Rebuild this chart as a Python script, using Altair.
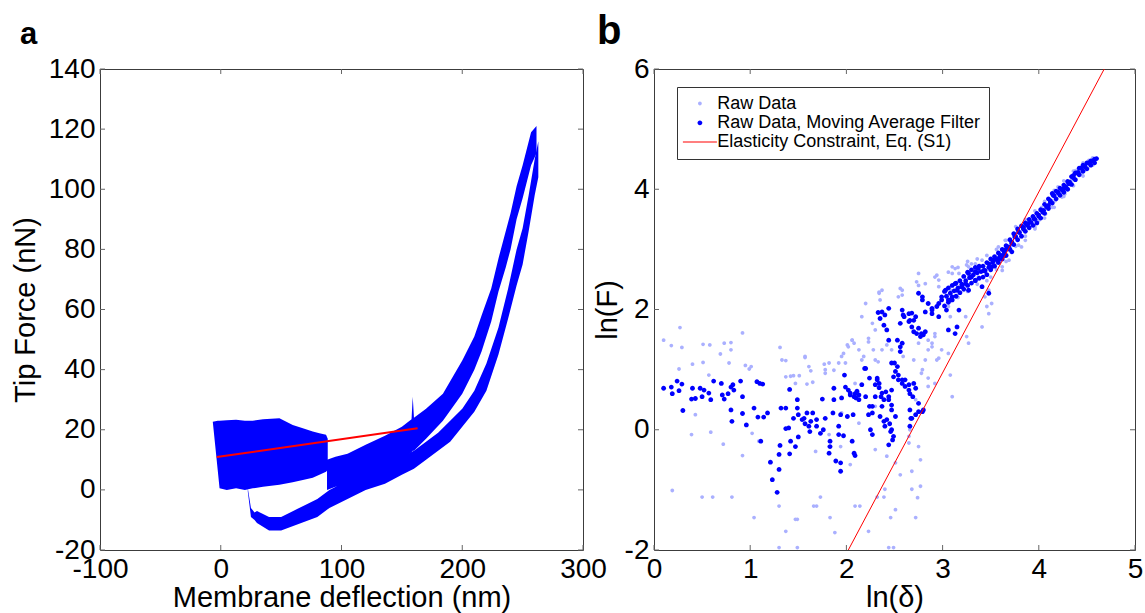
import altair as alt
import pandas as pd

FONT = "Liberation Sans"

# ---------------- Panel a : tip force vs membrane deflection ----------------
# dense oscillating block (vertical extent of the trace at each deflection)
block_x = [-6.6, -4.5, -2.5, -1, 5, 12.7, 20, 26.5, 35, 48.6, 59.6, 68, 76.2, 81.7, 87.2, 88.6]
block_lo = [22.7, 14.4, 6.5, 0.5, 0, 0.5, 0, 0.5, 1, 1.7, 2.5, 3.3, 4, 5, 6, 6.7]
block_hi = [22.7, 22.8, 23, 23, 23.2, 23.3, 23, 23, 23.5, 23.8, 21.6, 20.5, 19.4, 18.8, 18.3, 17]

# upper (loading) branch: vertical extent of the noisy trace
up_x = [88, 95, 105, 120, 136, 150, 158, 159, 160, 170, 184, 200, 210, 216, 224, 230, 236, 240, 245, 250, 257, 261.5]
up_lo = [0, 1, 1, 3, 6, 10, 12.5, 13, 13, 17, 23, 32, 40, 46, 56, 66, 74, 80, 90, 97, 108, 112]
up_hi = [10, 11, 12, 15, 18, 21, 23.5, 31, 24, 27, 32, 43, 51, 58, 67, 77, 86, 92, 101, 108, 119, 121]

# lower branch: vertical extent of the noisy trace
low_x = [22.4, 25, 28, 30, 40, 50, 60, 70, 80, 90, 100, 110, 120, 136, 150, 160, 170, 180, 190,
         200, 210, 220, 230, 238, 245, 250, 255, 260, 263]
low_lo = [-0.5, -9, -10, -11, -13.5, -13.5, -12, -10.5, -9, -6, -4, -2, 0, 2, 5, 7, 10, 13, 16,
          21, 26, 33, 45, 57, 68, 75, 86, 98, 104]
low_hi = [0.5, -6, -7.5, -7, -9, -9, -7, -5, -3, 0, 2, 4, 6, 8, 11, 13, 16, 19, 23,
          27, 33, 42, 54, 67, 80, 87, 98, 110, 116]

# red linear fit
fit_a_x = [-3.3, 163]
fit_a_y = [10.9, 20.5]

a_xticks = [-100, 0, 100, 200, 300]
a_yticks = [-20, 0, 20, 40, 60, 80, 100, 120, 140]

# ---------------- Panel b : ln(F) vs ln(delta) ----------------
raw_points = [
    (0.10, 1.49), (0.18, 1.40), (0.27, 1.70), (0.29, 1.37), (0.26, 1.01), (0.40, 1.09), (0.51, 1.42),
    (0.58, 1.41), (0.51, 1.12), (0.57, 0.91), (0.43, 0.25), (0.39, -0.08), (0.59, -0.04), (0.73, 1.44),
    (0.80, 1.45), (0.80, 1.33), (0.78, 1.11), (0.69, 1.26), (0.72, -0.24), (0.92, 1.61), (0.95, 1.07),
    (0.99, 1.01), (1.01, 1.05), (0.92, -0.43), (1.09, -0.19), (1.02, -0.06), (1.31, 1.37), (1.37, 1.15),
    (1.42, 0.89), (1.45, 0.90), (1.51, 0.90), (1.57, 1.20), (1.63, 0.98), (1.59, 0.76), (1.65, 0.79),
    (1.68, -0.36), (1.77, 1.09), (1.87, 0.99), (1.92, 1.11), (1.97, 1.27), (2.01, 1.41), (2.06, 1.49),
    (2.13, 1.33), (2.16, 1.16), (2.23, 1.46), (2.28, 1.33), (2.33, 1.13), (2.42, 1.41), (1.95, 0.28),
    (2.13, 0.11), (2.30, 0.39), (2.09, 0.77), (1.82, -0.08), (1.82, -0.28), (1.94, -0.28), (2.04, -0.58),
    (2.30, -0.33), (2.42, -0.44), (2.51, -0.55), (2.65, -0.11), (2.75, -0.28), (2.77, -0.50), (2.72, 0.50),
    (2.78, 0.94), (2.85, 0.86), (2.92, 0.77), (2.89, 1.38), (2.96, 1.19), (2.92, 1.60),
    (0.19, -1.01), (0.50, -1.12), (0.61, -1.12), (0.81, -1.12), (1.04, -1.46), (1.30, -1.27), (1.37, -1.69),
    (1.30, -1.96), (1.49, -1.49), (1.47, -1.49), (1.49, -1.96), (1.66, -1.27), (1.69, -1.27), (1.73, -1.12),
    (1.83, -1.46), (1.88, -1.71), (2.09, -1.27), (2.14, -1.27), (2.23, -1.69), (2.32, -1.12), (2.39, -1.12),
    (2.40, -0.99), (2.51, -1.33), (2.46, -1.46), (2.44, -1.96), (2.49, -1.96), (2.68, -0.99), (2.72, -1.46),
    (2.74, -1.13), (2.77, -0.94), (2.68, -0.69), (2.56, -0.75),
    (2.34, 2.29), (2.35, 2.16), (2.56, 2.35), (2.58, 2.24), (2.73, 2.46), (2.75, 2.40), (2.94, 2.57),
    (2.96, 2.49), (3.10, 2.60), (3.13, 2.68), (3.25, 2.74), (3.34, 2.76), (3.41, 2.82), (2.20, 2.10),
    (2.16, 1.88), (2.27, 1.77), (2.30, 1.66), (2.23, 1.52), (2.06, 1.49), (2.08, 1.44), (2.02, 1.38),
    (1.95, 1.22), (1.99, 1.11), (1.82, 1.11), (1.78, 1.00), (2.18, 1.22), (2.30, 1.16), (2.37, 1.33),
    (2.47, 1.33), (2.59, 1.22), (2.70, 1.16), (2.82, 1.16), (2.85, 1.33), (2.89, 1.44), (2.99, 1.33),
    (3.06, 1.27), (3.10, 0.55), (3.08, 0.91), (2.94, 1.16), (2.79, 1.00), (2.66, 0.00), (2.65, -0.22),
    (2.85, 0.72), (3.27, 1.44), (3.25, 1.55), (3.41, 1.71), (3.48, 1.93), (3.46, 2.05), (3.24, 1.88),
    (3.08, 1.88), (2.92, 1.55), (2.85, 1.49), (2.75, 1.44), (1.33, 1.16), (1.37, 0.88), (1.57, 1.22),
    (1.61, 1.05), (1.78, 0.94), (1.47, 0.77),
    (4.52, 4.48), (4.45, 4.26), (4.34, 4.15), (4.27, 3.92), (4.17, 3.81), (4.07, 3.59), (4.03, 3.70),
    (3.96, 3.37), (3.86, 3.32), (3.82, 3.21), (3.79, 3.07), (3.74, 3.26), (3.69, 2.82), (3.65, 3.15),
    (3.62, 2.71), (3.58, 3.04), (3.55, 2.76), (3.50, 2.54), (3.44, 2.65), (3.37, 2.54), (3.41, 2.38),
    (3.30, 2.76), (3.27, 2.71), (3.17, 2.60), (3.10, 2.71), (3.22, 2.32), (3.08, 2.32), (2.96, 2.38),
    (2.92, 2.54), (2.82, 2.43), (2.75, 2.60), (2.58, 2.32), (2.54, 2.21), (2.37, 2.32), (2.34, 2.27),
    (3.82, 3.04), (3.86, 3.15), (4.00, 3.48), (4.14, 3.70), (4.20, 4.04), (4.24, 3.87), (4.38, 4.31),
    (3.62, 2.65), (3.48, 2.32), (3.44, 2.21), (3.51, 2.10),
    (4.56, 4.52), (4.56, 4.40), (4.46, 4.44), (4.46, 4.22), (4.36, 4.30), (4.36, 4.06), (4.26, 4.14),
    (4.26, 3.88), (4.16, 3.98), (4.16, 3.70), (4.06, 3.80), (4.06, 3.52), (3.96, 3.64), (3.96, 3.34),
    (3.86, 3.50), (3.86, 3.22), (3.76, 3.38), (3.76, 3.05), (3.66, 3.15), (3.66, 2.80), (3.56, 3.00),
    (3.56, 2.66), (3.46, 2.90), (3.46, 2.48), (3.36, 2.84), (3.36, 2.42), (3.26, 2.80), (3.26, 2.30),
    (3.16, 2.70), (3.16, 2.20), (3.06, 2.62), (3.06, 2.05),
]

ma_points = [
    (0.10, 0.69), (0.18, 0.71), (0.19, 0.60), (0.24, 0.81), (0.26, 0.65), (0.29, 0.76), (0.30, 0.32),
    (0.40, 0.69), (0.39, 0.51), (0.43, 0.52), (0.48, 0.69), (0.52, 0.66), (0.50, 0.55), (0.57, 0.61),
    (0.59, 0.50), (0.62, 0.81), (0.70, 0.77), (0.71, 0.58), (0.73, 0.51), (0.77, 0.60), (0.80, 0.71),
    (0.82, 0.75), (0.83, 0.66), (0.80, 0.33), (0.81, 0.14), (0.90, 0.81), (0.92, 0.55), (0.92, 0.27),
    (0.96, 0.08), (1.04, 0.36), (1.07, 0.80), (1.10, 0.77), (1.13, 0.76), (1.11, -0.19), (1.08, 0.21),
    (1.18, 0.28), (1.14, 0.21),
    (1.21, -0.54), (1.23, -0.83), (1.28, -1.04), (1.30, -0.66), (1.30, -0.41), (1.31, -0.26), (1.32, 0.36),
    (1.37, 0.36), (1.37, 0.02), (1.40, 0.03), (1.41, 0.67), (1.42, -0.19), (1.41, -0.40), (1.45, 0.19),
    (1.47, -0.28), (1.49, 0.50), (1.49, 0.36), (1.50, 0.25), (1.50, -0.12), (1.54, 0.17), (1.56, 0.19),
    (1.57, 0.10), (1.59, 0.28), (1.61, 0.06), (1.62, -0.03), (1.65, 0.28), (1.63, 0.14), (1.69, 0.06),
    (1.69, 0.17), (1.75, 0.51), (1.73, -0.06), (1.76, 0.00), (1.78, 0.19), (1.83, -0.19), (1.83, -0.28),
    (1.82, -0.39), (1.87, 0.69), (1.87, 0.50), (1.86, 0.28), (1.89, -0.52), (1.92, 0.06), (1.92, -0.08),
    (1.94, 0.25), (1.94, -0.55), (1.94, -0.69), (1.95, 0.53), (1.97, -0.10), (1.98, 0.91), (1.99, 0.71),
    (2.01, 0.22), (2.02, 0.66), (2.04, 0.58), (2.06, -0.19), (2.07, 0.25), (2.08, -0.39), (2.09, -0.43),
    (2.09, 0.60), (2.10, 0.53), (2.11, 0.64), (2.13, 0.50), (2.16, 0.75), (2.19, 1.02), (2.20, 0.55),
    (2.24, 0.39), (2.24, 0.86), (2.27, 0.28), (2.25, 0.00), (2.27, -0.08), (2.30, 0.75), (2.30, 0.55),
    (2.32, 0.83), (2.34, 0.70), (2.35, 0.22), (2.36, 0.55), (2.37, 0.39), (2.39, 0.50), (2.39, 0.14),
    (2.40, 0.06), (2.44, 0.50), (2.45, 0.10), (2.46, -0.03), (2.47, 0.33), (2.47, 0.66), (2.44, -0.25),
    (2.48, -0.17), (2.50, 1.11), (2.51, 0.97), (2.51, 0.22), (2.54, 0.83), (2.56, 1.30), (2.58, 1.44),
    (2.58, 0.77), (2.61, 0.83), (2.65, 0.75), (2.66, 0.60), (2.69, 0.55), (2.66, 0.06), (2.67, 0.19),
    (2.72, 0.25), (2.75, 0.30), (2.80, 0.33),
    (2.44, 2.02), (2.37, 1.96), (2.33, 1.95), (2.40, 1.91), (2.58, 1.99), (2.59, 1.91), (2.70, 1.82),
    (2.75, 1.69), (2.78, 1.60), (2.68, 1.94), (2.89, 1.99),
    (2.35, 1.85), (2.39, 1.74), (2.42, 1.66), (2.44, 1.49), (2.53, 1.49), (2.56, 1.38), (2.60, 1.88),
    (2.56, 1.77), (2.65, 1.93), (2.66, 1.82), (2.68, 1.71), (2.70, 1.63), (2.73, 1.60), (2.77, 1.55),
    (2.80, 1.58), (2.82, 1.63), (2.75, 2.27), (2.79, 2.21), (2.85, 2.10), (2.89, 1.93), (2.94, 2.05),
    (2.96, 1.88), (2.99, 2.16), (3.03, 2.32), (3.04, 1.99), (3.06, 1.66), (3.08, 2.16), (3.13, 1.60),
    (3.15, 1.71), (3.17, 1.99), (3.13, 2.43), (3.20, 2.38), (3.27, 2.32), (3.29, 2.54), (3.34, 2.49),
    (3.41, 2.38), (3.48, 2.27), (3.44, 2.65), (3.51, 2.71), (3.58, 2.82), (3.65, 2.90), (3.72, 2.96),
    (2.47, 1.11), (2.53, 1.05), (2.49, 0.88), (2.54, 0.91), (2.58, 0.83), (2.61, 0.72), (2.65, 0.66),
    (2.70, 0.77), (2.72, 0.69), (2.75, 0.44), (2.79, 0.30), (2.66, 0.33), (2.68, 0.19), (2.04, 0.61),
    (2.08, 0.55), (2.13, 0.58), (2.20, 1.02), (2.32, 0.86), (2.34, 0.77), (2.37, 0.61), (2.41, 0.63),
    (2.44, 0.55), (2.47, 0.41), (2.27, 0.39), (2.23, 0.25), (2.42, 0.17), (2.47, 0.00), (2.49, -0.11),
    (4.60, 4.51), (4.48, 4.37), (4.41, 4.28), (4.36, 4.23), (4.31, 4.09), (4.26, 4.01), (4.20, 3.95),
    (4.15, 3.90), (4.12, 3.81), (4.10, 3.73), (4.05, 3.65), (4.00, 3.57), (3.95, 3.51), (3.89, 3.43),
    (3.84, 3.37), (3.79, 3.29), (3.75, 3.21), (3.72, 3.10), (3.69, 3.04), (3.65, 2.99), (3.62, 2.90),
    (3.58, 2.85), (3.53, 2.82), (3.48, 2.76), (3.43, 2.65), (3.37, 2.68), (3.34, 2.63), (3.30, 2.54),
    (3.27, 2.60), (3.24, 2.43), (3.20, 2.38), (3.15, 2.32), (3.10, 2.21), (3.06, 2.16), (2.99, 2.21),
    (2.96, 2.10), (2.89, 2.02), (2.82, 1.96), (2.79, 2.16), (2.72, 1.88), (2.65, 1.80),
    (4.58, 4.50), (4.58, 4.44), (4.54, 4.47), (4.54, 4.40), (4.50, 4.44), (4.50, 4.34), (4.46, 4.40),
    (4.46, 4.30), (4.42, 4.35), (4.42, 4.24), (4.38, 4.27), (4.38, 4.16), (4.34, 4.21), (4.34, 4.08),
    (4.30, 4.13), (4.30, 4.00), (4.26, 4.07), (4.26, 3.95), (4.22, 4.02), (4.22, 3.90), (4.18, 3.97),
    (4.18, 3.84), (4.14, 3.93), (4.14, 3.77), (4.10, 3.84), (4.10, 3.68), (4.06, 3.75), (4.06, 3.60),
    (4.02, 3.66), (4.02, 3.52), (3.98, 3.60), (3.98, 3.44), (3.94, 3.55), (3.94, 3.40), (3.90, 3.50),
    (3.90, 3.36), (3.86, 3.44), (3.86, 3.30), (3.82, 3.39), (3.82, 3.22), (3.78, 3.34), (3.78, 3.16),
    (3.74, 3.26), (3.74, 3.08), (3.70, 3.16), (3.70, 3.00), (3.66, 3.06), (3.66, 2.90), (3.62, 3.00),
    (3.62, 2.84), (3.58, 2.94), (3.58, 2.78), (3.54, 2.88), (3.54, 2.72), (3.50, 2.84), (3.50, 2.66),
    (3.46, 2.78), (3.46, 2.58), (3.42, 2.72), (3.42, 2.54), (3.38, 2.72), (3.38, 2.52), (3.34, 2.70),
    (3.34, 2.48), (3.30, 2.66), (3.30, 2.44), (3.26, 2.62), (3.26, 2.40), (3.22, 2.55), (3.22, 2.34),
    (3.18, 2.48), (3.18, 2.28), (3.14, 2.44), (3.14, 2.22), (3.10, 2.40), (3.10, 2.16), (3.06, 2.36),
    (3.06, 2.12), (3.02, 2.30), (3.02, 2.06),
    (4.56, 4.47), (4.52, 4.44), (4.48, 4.39), (4.44, 4.35), (4.40, 4.27), (4.36, 4.19), (4.32, 4.12),
    (4.28, 4.04), (4.24, 3.99), (4.20, 3.94), (4.16, 3.89), (4.12, 3.79), (4.08, 3.71), (4.04, 3.62),
    (4.00, 3.55), (3.96, 3.50), (3.92, 3.45), (3.88, 3.40), (3.84, 3.34), (3.80, 3.28), (3.76, 3.21),
    (3.72, 3.12), (3.68, 3.03), (3.64, 2.96), (3.60, 2.90), (3.56, 2.83), (3.52, 2.78), (3.48, 2.70),
    (3.44, 2.64), (3.40, 2.63), (3.36, 2.61), (3.32, 2.58), (3.28, 2.53), (3.24, 2.48), (3.20, 2.42),
    (3.16, 2.36), (3.12, 2.31), (3.08, 2.27), (3.04, 2.22),
]

fit_b_x = [2.02, 4.68]
fit_b_y = [-2.0, 6.0]

b_xticks = [0, 1, 2, 3, 4, 5]
b_yticks = [-2, 0, 2, 4, 6]

panel_letters = ["a", "b"]

SERIES = ["Raw Data", "Raw Data, Moving Average Filter", "Elasticity Constraint, Eq. (S1)"]
COLORS = ["#aab0ff", "#0000ff", "#ff0000"]
# glyph paths (unit = 2 px at size 16): dots for the data, a thin 34 px bar for the line entry
DOT_RAW = "M-0.95,0A0.95,0.95 0 1,1 0.95,0A0.95,0.95 0 1,1 -0.95,0Z"
DOT_MA = "M-1.2,0A1.2,1.2 0 1,1 1.2,0A1.2,1.2 0 1,1 -1.2,0Z"
BAR = "M-8.5,-0.25L8.5,-0.25L8.5,0.25L-8.5,0.25Z"
SHAPES = [DOT_RAW, DOT_MA, BAR]
GLYPH = 16

# ---------------- styling helpers ----------------
W_A, H_A = 483, 481
W_B, H_B = 481, 481
FRAME = "#3c3c3c"
TICK = "#666666"
TL = 5


def make_axis(title, values, title_pad):
    return alt.Axis(title=title, values=values, ticks=False, tickSize=0, domain=False, grid=False,
                    labelFont=FONT, labelFontSize=28, labelColor="black", labelPadding=5,
                    labelFlush=False, labelOverlap=False, labelExpr="'' + datum.value",
                    titleFont=FONT, titleFontSize=29, titleFontWeight="normal", titleColor="black",
                    titlePadding=title_pad)


def inner_ticks(xvals, yvals, w, h):
    tx = pd.DataFrame({"x": xvals})
    ty = pd.DataFrame({"y": yvals})
    bot = alt.Chart(tx).mark_rule(color=TICK, strokeWidth=1).encode(
        x="x:Q", y=alt.value(h), y2=alt.value(h - TL))
    top = alt.Chart(tx).mark_rule(color=TICK, strokeWidth=1).encode(
        x="x:Q", y=alt.value(0), y2=alt.value(TL))
    left = alt.Chart(ty).mark_rule(color=TICK, strokeWidth=1).encode(
        y="y:Q", x=alt.value(0), x2=alt.value(TL))
    right = alt.Chart(ty).mark_rule(color=TICK, strokeWidth=1).encode(
        y="y:Q", x=alt.value(w), x2=alt.value(w - TL))
    return [bot, top, left, right]


def letter(txt, dx, fs):
    return alt.Chart(pd.DataFrame({"t": [txt]})).mark_text(
        font=FONT, fontSize=fs, fontWeight="bold", align="left", baseline="alphabetic", color="black"
    ).encode(x=alt.value(dx), y=alt.value(-25.5), text="t:N")


# ---------------- panel a ----------------
xa_scale = alt.Scale(domain=[-100, 300], nice=False, zero=False)
ya_scale = alt.Scale(domain=[-20, 140], nice=False, zero=False)
xa_axis = make_axis("Membrane deflection (nm)", a_xticks, 0)
ya_axis = make_axis("Tip Force (nN)", a_yticks, 8)


def band(xs, lo, hi):
    df = pd.DataFrame({"x": xs, "y": lo, "y2": hi})
    return alt.Chart(df).mark_area(color="#0000ff", opacity=1, interpolate="linear").encode(
        x=alt.X("x:Q", scale=xa_scale, axis=xa_axis),
        y=alt.Y("y:Q", scale=ya_scale, axis=ya_axis),
        y2="y2:Q",
    )


fit_a = alt.Chart(pd.DataFrame({"x": fit_a_x, "y": fit_a_y})).mark_line(color="#ff0000", strokeWidth=2).encode(
    x=alt.X("x:Q", scale=xa_scale, axis=xa_axis),
    y=alt.Y("y:Q", scale=ya_scale, axis=ya_axis),
)

panel_a = alt.layer(
    band(block_x, block_lo, block_hi),
    band(low_x, low_lo, low_hi),
    band(up_x, up_lo, up_hi),
    fit_a,
    *inner_ticks(a_xticks, a_yticks, W_A, H_A),
    letter(panel_letters[0], -80, 31),
).properties(width=W_A, height=H_A)

# ---------------- panel b ----------------
xb_scale = alt.Scale(domain=[0, 5], nice=False, zero=False)
yb_scale = alt.Scale(domain=[-2, 6], nice=False, zero=False)
xb_axis = make_axis("ln(δ)", b_xticks, 0)
yb_axis = make_axis("ln(F)", b_yticks, 2)

raw_df = pd.DataFrame({"x": [p[0] for p in raw_points], "y": [p[1] for p in raw_points], "s": SERIES[0]})
ma_df = pd.DataFrame({"x": [p[0] for p in ma_points], "y": [p[1] for p in ma_points], "s": SERIES[1]})
fit_b_df = pd.DataFrame({"x": fit_b_x, "y": fit_b_y, "s": SERIES[2]})

legend = alt.Legend(
    title=None, orient="none", legendX=23, legendY=18,
    labelFont=FONT, labelFontSize=18, labelColor="black", labelOffset=8.3, labelLimit=500,
    symbolSize=GLYPH, symbolOffset=6.4, rowPadding=1.3, padding=7.5,
    strokeColor="#333333", fillColor="white", symbolStrokeWidth=0, symbolOpacity=1,
)
color_enc = alt.Color("s:N", scale=alt.Scale(domain=SERIES, range=COLORS), legend=legend)
shape_enc = alt.Shape("s:N", scale=alt.Scale(domain=SERIES, range=SHAPES), legend=legend)

raw_layer = alt.Chart(raw_df).mark_point(filled=True, size=GLYPH, opacity=1, strokeWidth=0).encode(
    x=alt.X("x:Q", scale=xb_scale, axis=xb_axis),
    y=alt.Y("y:Q", scale=yb_scale, axis=yb_axis),
    color=color_enc, shape=shape_enc,
)
ma_layer = alt.Chart(ma_df).mark_point(filled=True, size=GLYPH, opacity=1, strokeWidth=0).encode(
    x=alt.X("x:Q", scale=xb_scale, axis=xb_axis),
    y=alt.Y("y:Q", scale=yb_scale, axis=yb_axis),
    color=color_enc, shape=shape_enc,
)
fit_b_layer = alt.Chart(fit_b_df).mark_line(strokeWidth=1, clip=True).encode(
    x=alt.X("x:Q", scale=xb_scale, axis=xb_axis),
    y=alt.Y("y:Q", scale=yb_scale, axis=yb_axis),
    color=color_enc,
)

panel_b = alt.layer(
    raw_layer, ma_layer, fit_b_layer,
    *inner_ticks(b_xticks, b_yticks, W_B, H_B),
    letter(panel_letters[1], -57, 40),
).properties(width=W_B, height=H_B)

chart = alt.hconcat(panel_a, panel_b, spacing=71, bounds="flush").resolve_scale(
    color="independent", shape="independent").resolve_legend(
    color="independent", shape="independent").properties(
    padding={"left": 10, "top": 11, "right": 0, "bottom": 0},
    background="white",
).configure_view(stroke=FRAME, strokeWidth=1)

chart.save("out.html", embed_options={"renderer": "svg", "actions": False})
